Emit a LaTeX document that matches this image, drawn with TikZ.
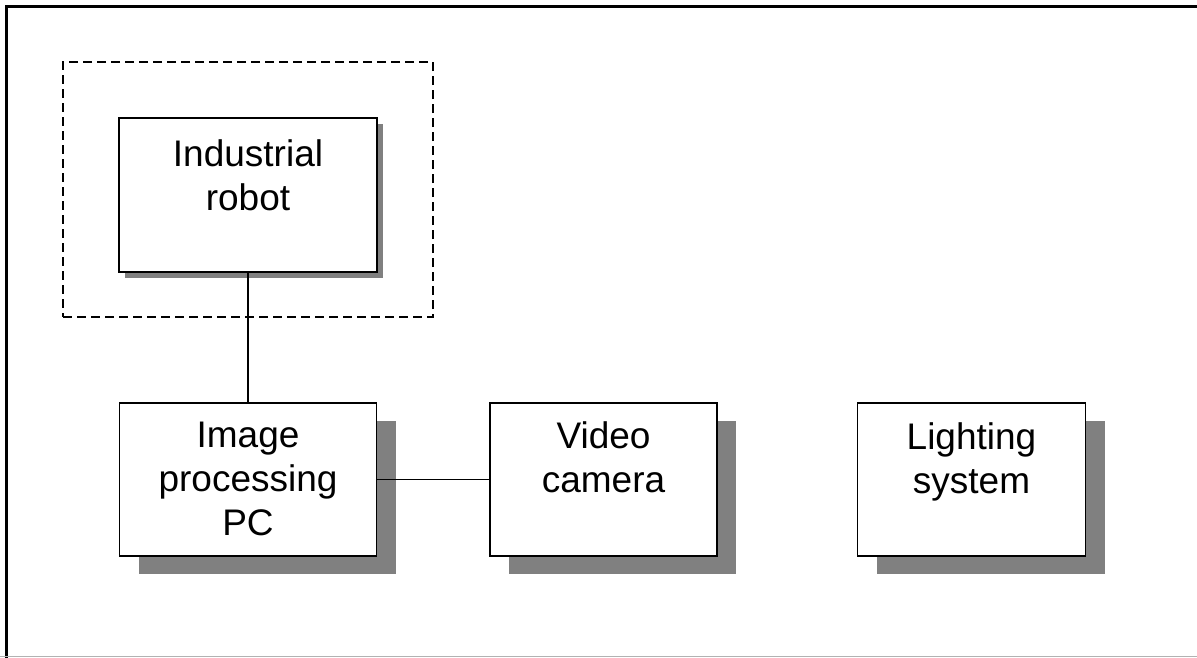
\documentclass[tikz,border=0pt]{standalone}
\usepackage{fontspec}
\setmainfont{Liberation Sans}
\usetikzlibrary{shadows}

\begin{document}
\begin{tikzpicture}[x=1pt, y=-1pt,
  block/.style={draw=black, line width=1.9pt, fill=white, rectangle, inner sep=0pt,
    drop shadow={shadow xshift=19pt, shadow yshift=-18pt, fill=black!50, opacity=1}},
  smallblock/.style={draw=black, line width=1.9pt, fill=white, rectangle, inner sep=0pt,
    drop shadow={shadow xshift=6pt, shadow yshift=-6pt, fill=black!50, opacity=1}},
  blocktext/.style={inner sep=0pt, align=center, anchor=north,
    font=\fontsize{37pt}{44pt}\selectfont},
  link/.style={draw=black, line width=1.4pt},
  group/.style={draw=black, line width=1.4pt, dash pattern=on 9pt off 5pt}]

  \useasboundingbox (0,0) rectangle (1197,657);

  % outer frame (open to the right)
  \draw[line width=3pt] (1200,6.5) -- (6.5,6.5) -- (6.5,660);
  \draw[line width=1pt, black!30] (0,656.5) -- (1197,656.5);

  % robot cell boundary
  \node[group, minimum width=370pt, minimum height=255pt, inner sep=0pt]
    (cell) at (248,189.5) {};

  % blocks
  \node[smallblock, minimum width=258pt, minimum height=154pt] (robot)    at (248,195)    {};
  \node[block,      minimum width=257pt, minimum height=153pt] (pc)       at (248,479.5)  {};
  \node[block,      minimum width=227pt, minimum height=153pt] (camera)   at (603.5,479.5) {};
  \node[block,      minimum width=228pt, minimum height=153pt] (lighting) at (971.5,479.5) {};

  % labels
  \node[blocktext] (robot-text)    at (248,139)    {Industrial\\robot};
  \node[blocktext] (pc-text)       at (248,422)    {Image\\processing\\PC};
  \node[blocktext] (camera-text)   at (603.5,421)  {Video\\camera};
  \node[blocktext] (lighting-text) at (971.5,422)  {Lighting\\system};

  % connections
  \draw[link] (robot.south) -- (pc.north);
  \draw[link] (pc.east) -- (camera.west);
\end{tikzpicture}
\end{document}
